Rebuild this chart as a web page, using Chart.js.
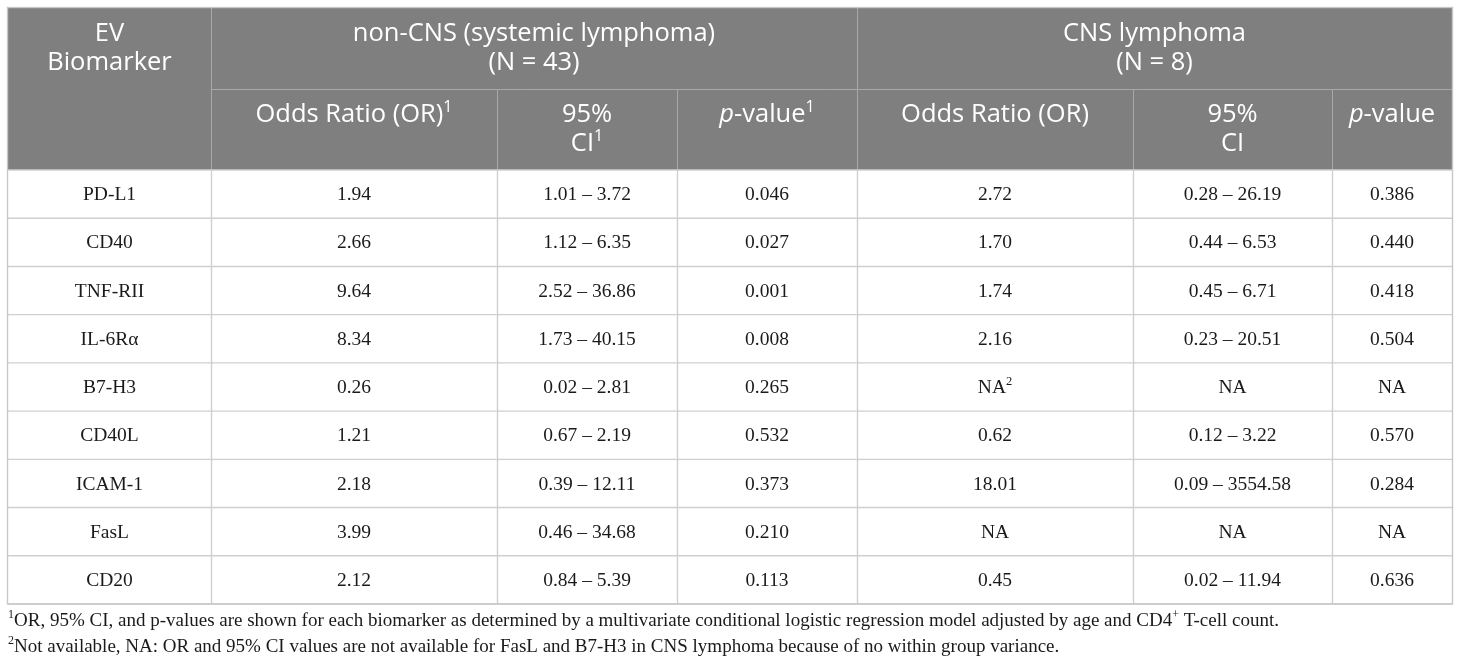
<!DOCTYPE html>
<html>
<head>
<meta charset="utf-8">
<script src="https://cdn.jsdelivr.net/npm/chart.js@4.4.1/dist/chart.umd.min.js"></script>
<style>
  html, body { margin: 0; padding: 0; background: #ffffff; }
  #wrap { width: 1460px; height: 667px; }
</style>
</head>
<body>
<div id="wrap"><canvas id="c" width="1460" height="667"></canvas></div>
<script>
// ---- Data ----
const biomarkers = ['PD-L1', 'CD40', 'TNF-RII', 'IL-6R\u03B1', 'B7-H3', 'CD40L', 'ICAM-1', 'FasL', 'CD20'];
const sysOR     = [1.94, 2.66, 9.64, 8.34, 0.26, 1.21, 2.18, 3.99, 2.12];
const sysCILow  = [1.01, 1.12, 2.52, 1.73, 0.02, 0.67, 0.39, 0.46, 0.84];
const sysCIHigh = [3.72, 6.35, 36.86, 40.15, 2.81, 2.19, 12.11, 34.68, 5.39];
const sysP      = [0.046, 0.027, 0.001, 0.008, 0.265, 0.532, 0.373, 0.210, 0.113];
const cnsOR     = [2.72, 1.70, 1.74, 2.16, null, 0.62, 18.01, null, 0.45];
const cnsORNote = ['', '', '', '', '2', '', '', '', ''];
const cnsCILow  = [0.28, 0.44, 0.45, 0.23, null, 0.12, 0.09, null, 0.02];
const cnsCIHigh = [26.19, 6.53, 6.71, 20.51, null, 3.22, 3554.58, null, 11.94];
const cnsP      = [0.386, 0.440, 0.418, 0.504, null, 0.570, 0.284, null, 0.636];

const groupHeaders = [
  ['non-CNS (systemic lymphoma)', '(N = 43)'],
  ['CNS lymphoma', '(N = 8)']
];
const firstHeader = ['EV', 'Biomarker'];
const footnotes = [
  ['1', 'OR, 95% CI, and p-values are shown for each biomarker as determined by a multivariate conditional logistic regression model adjusted by age and CD4', '+', ' T-cell count.'],
  ['2', 'Not available, NA: OR and 95% CI values are not available for FasL and B7-H3 in CNS lymphoma because of no within group variance.']
];

// ---- Layout (column edges in x-scale units) ----
const colEdges = [0, 203, 489, 669, 849, 1125, 1324, 1444];

const HFONT = '"Open Sans", "Noto Sans", sans-serif';
const BFONT = '"Liberation Serif", "DejaVu Serif", serif';

function fmt2(v) { return v == null ? 'NA' : v.toFixed(2); }
function fmt3(v) { return v == null ? 'NA' : v.toFixed(3); }
function fmtCI(lo, hi) { return lo == null ? 'NA' : lo.toFixed(2) + ' \u2013 ' + hi.toFixed(2); }

// rich text: segs = [{t, f, dy}]
function drawRich(ctx, segs, cx, cy, align) {
  let w = 0;
  segs.forEach(s => { ctx.font = s.f; s.w = ctx.measureText(s.t).width; w += s.w; });
  let x = align === 'left' ? cx : cx - w / 2;
  ctx.textAlign = 'left';
  ctx.textBaseline = 'middle';
  segs.forEach(s => { ctx.font = s.f; ctx.fillText(s.t, x, cy + (s.dy || 0)); x += s.w; });
}

const tablePlugin = {
  id: 'tablePlugin',
  beforeDraw(chart) {
    const ctx = chart.ctx;
    ctx.save();
    ctx.fillStyle = '#ffffff';
    ctx.fillRect(0, 0, chart.width, chart.height);
    ctx.restore();
  },
  afterDraw(chart) {
    const ctx = chart.ctx;
    const xs = chart.scales.x, ys = chart.scales.y;
    const X = v => xs.getPixelForValue(v);
    const top = 8, h1 = 89, h2 = chart.chartArea.top, bottom = chart.chartArea.bottom;
    const L = X(colEdges[0]), R = X(colEdges[colEdges.length - 1]);
    const rowH = ys.getPixelForValue(1) - ys.getPixelForValue(0);

    ctx.save();
    // header fill
    ctx.fillStyle = '#7f7f7f';
    ctx.fillRect(L, top, R - L, h2 - top);

    // header inner lines
    ctx.strokeStyle = '#a8a8a8';
    ctx.lineWidth = 1;
    ctx.beginPath();
    ctx.moveTo(X(colEdges[1]), h1 + 0.5); ctx.lineTo(R, h1 + 0.5);
    ctx.moveTo(Math.round(X(colEdges[1])) + 0.5, top); ctx.lineTo(Math.round(X(colEdges[1])) + 0.5, h2);
    ctx.moveTo(Math.round(X(colEdges[4])) + 0.5, top); ctx.lineTo(Math.round(X(colEdges[4])) + 0.5, h2);
    [2, 3, 5, 6].forEach(i => {
      const xx = Math.round(X(colEdges[i])) + 0.5;
      ctx.moveTo(xx, h1); ctx.lineTo(xx, h2);
    });
    ctx.stroke();

    // body grid
    ctx.strokeStyle = '#cfcfcf';
    ctx.lineWidth = 1.4;
    ctx.beginPath();
    for (let i = 0; i <= biomarkers.length; i++) {
      const yy = ys.getPixelForValue(i) - rowH / 2;
      ctx.moveTo(L, yy); ctx.lineTo(R, yy);
    }
    for (let i = 1; i < colEdges.length - 1; i++) {
      const xx = Math.round(X(colEdges[i])) + 0.5;
      ctx.moveTo(xx, h2); ctx.lineTo(xx, bottom);
    }
    ctx.stroke();

    // outer border
    ctx.strokeStyle = '#c8c8c8';
    ctx.lineWidth = 1.4;
    ctx.strokeRect(L - 0.5, top - 0.5, R - L + 1, bottom - top + 0.5);

    // header text
    ctx.fillStyle = '#ffffff';
    const hf = '25.5px ' + HFONT, hi = 'italic 25.5px ' + HFONT, hs = '16px ' + HFONT;
    const cc = (a, b) => (X(colEdges[a]) + X(colEdges[b])) / 2;
    drawRich(ctx, [{ t: firstHeader[0], f: hf }], cc(0, 1), 34);
    drawRich(ctx, [{ t: firstHeader[1], f: hf }], cc(0, 1), 63);
    drawRich(ctx, [{ t: groupHeaders[0][0], f: hf }], cc(1, 4), 34);
    drawRich(ctx, [{ t: groupHeaders[0][1], f: hf }], cc(1, 4), 63);
    drawRich(ctx, [{ t: groupHeaders[1][0], f: hf }], cc(4, 7), 34);
    drawRich(ctx, [{ t: groupHeaders[1][1], f: hf }], cc(4, 7), 63);
    const hy1 = 115, hy2 = 144;
    // sub headers group 1
    drawRich(ctx, [{ t: 'Odds Ratio (OR)', f: hf }, { t: '1', f: hs, dy: -8 }], cc(1, 2), hy1);
    drawRich(ctx, [{ t: '95%', f: hf }], cc(2, 3), hy1);
    drawRich(ctx, [{ t: 'CI', f: hf }, { t: '1', f: hs, dy: -8 }], cc(2, 3), hy2);
    drawRich(ctx, [{ t: 'p', f: hi }, { t: '-value', f: hf }, { t: '1', f: hs, dy: -8 }], cc(3, 4), hy1);
    // group 2
    drawRich(ctx, [{ t: 'Odds Ratio (OR)', f: hf }], cc(4, 5), hy1);
    drawRich(ctx, [{ t: '95%', f: hf }], cc(5, 6), hy1);
    drawRich(ctx, [{ t: 'CI', f: hf }], cc(5, 6), hy2);
    drawRich(ctx, [{ t: 'p', f: hi }, { t: '-value', f: hf }], cc(6, 7), hy1);

    // body text
    ctx.fillStyle = '#1a1a1a';
    const bf = '19.5px ' + BFONT, bs = '12.5px ' + BFONT;
    biomarkers.forEach((name, i) => {
      const y = ys.getPixelForValue(i) + 1;
      const cells = [
        name,
        fmt2(sysOR[i]),
        fmtCI(sysCILow[i], sysCIHigh[i]),
        fmt3(sysP[i]),
        fmt2(cnsOR[i]),
        fmtCI(cnsCILow[i], cnsCIHigh[i]),
        fmt3(cnsP[i])
      ];
      cells.forEach((t, c) => {
        const segs = [{ t: t, f: bf }];
        if (c === 4 && cnsORNote[i]) segs.push({ t: cnsORNote[i], f: bs, dy: -6 });
        drawRich(ctx, segs, cc(c, c + 1), y);
      });
    });

    // footnotes
    const ff = '19px ' + BFONT, fs = '12px ' + BFONT;
    const fy = [621, 647];
    footnotes.forEach((fn, k) => {
      const segs = [{ t: fn[0], f: fs, dy: -6 }, { t: fn[1], f: ff }];
      if (fn.length > 2) { segs.push({ t: fn[2], f: fs, dy: -6 }); segs.push({ t: fn[3], f: ff }); }
      drawRich(ctx, segs, 8, fy[k], 'left');
    });
    ctx.restore();
  }
};

new Chart(document.getElementById('c'), {
  type: 'scatter',
  data: { datasets: [{ data: [], pointRadius: 0 }] },
  options: {
    responsive: false,
    animation: false,
    events: [],
    layout: { padding: { top: 170, left: 8, right: 8, bottom: 63 } },
    plugins: { legend: { display: false }, tooltip: { enabled: false }, title: { display: false } },
    scales: {
      x: { type: 'linear', min: colEdges[0], max: colEdges[colEdges.length - 1], display: false },
      y: { type: 'category', labels: biomarkers, offset: true, display: false, grid: { display: false } }
    }
  },
  plugins: [tablePlugin]
});
</script>
</body>
</html>
